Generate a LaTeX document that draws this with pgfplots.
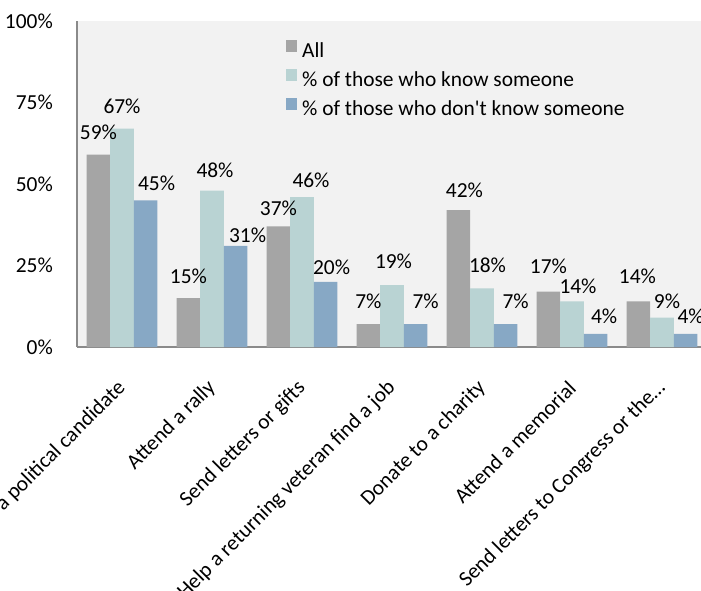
\documentclass[border=0pt]{standalone}
\usepackage{fontspec}
\setmainfont{Carlito}
\usepackage{pgfplots}
\usepackage{pgfplotstable}
\pgfplotsset{compat=1.18}
\definecolor{cAll}{HTML}{A5A5A5}
\definecolor{cKnow}{HTML}{B9D3D3}
\definecolor{cDont}{HTML}{87A8C5}
\definecolor{bgc}{HTML}{F2F2F2}
\definecolor{axc}{HTML}{8A8A8A}

\pgfplotstableread{
x y dx dy
0 59 0 22.7
1 15 0 21.4
2 37 0 18
3 7 0 22.5
4 42 6 19.4
5 17 0 24.9
6 14 -1 24.7
}\tAll
\pgfplotstableread{
x y dx dy
0 67 0 22.6
1 48 3 20.5
2 46 9 17
3 19 1.5 23.3
4 18 5.5 23.3
5 14 6 14.7
6 9 5 16
}\tKnow
\pgfplotstableread{
x y dx dy
0 45 11 17.3
1 31 12 10.9
2 20 6 15
3 7 10 22.5
4 7 10 22.5
5 4 8.5 18
6 4 5 18
}\tDont

\begin{document}
\begin{tikzpicture}[font=\fontsize{21.4bp}{25.6bp}\selectfont]
\begin{axis}[
  at={(77bp,-347bp)}, anchor=south west,
  width=630bp, height=326bp, scale only axis,
  xmin=-0.5, xmax=6.5, ymin=0, ymax=100,
  axis background/.style={fill=bgc},
  axis x line*=bottom, axis y line*=left,
  axis line style={draw=axc, line width=2bp, -},
  ybar=0pt, bar width=23.6bp,
  xtick={0,...,6},
  xticklabels={a political candidate, Attend a rally, Send letters or gifts, Help a returning veteran find a job, Donate to a charity, Attend a memorial, Send letters to Congress or the…},
  ytick={0,25,50,75,100},
  yticklabels={0\%,25\%,50\%,75\%,100\%},
  major tick length=0pt,
  yticklabel style={inner sep=0pt, xshift=-24bp},
  xticklabel style={rotate=45, anchor=east, inner sep=0pt, xshift=-26.4bp, yshift=-26.9bp},
  nodes near coords={\pgfmathprintnumber[assume math mode=true]{\pgfplotspointmeta}\%},
  visualization depends on={\thisrow{dx}\as\dx},
  visualization depends on={\thisrow{dy}\as\dy},
  nodes near coords style={anchor=center, inner sep=0pt, xshift=\dx bp, yshift=\dy bp, text=black},
  legend style={at={(rel axis cs:0.3317,0.9417)}, anchor=north west, draw=none, fill=none, inner sep=0pt,
    row sep=8bp, nodes={inner sep=0pt, text height=15bp, text depth=4bp},
    /tikz/every odd column/.append style={column sep=5bp}},
  legend cell align=left,
  legend image code/.code={\fill[#1] (0bp,0bp) rectangle (11bp,11.5bp);},
]
\addplot[draw=none, fill=cAll] table[x=x,y=y] {\tAll};
\addplot[draw=none, fill=cKnow] table[x=x,y=y] {\tKnow};
\addplot[draw=none, fill=cDont] table[x=x,y=y] {\tDont};
\legend{All, \% of those who know someone, \% of those who don\textquotesingle t know someone}
\end{axis}
\pgfresetboundingbox
\path[use as bounding box] (0,0) rectangle (701bp,-591bp);
\end{tikzpicture}
\end{document}
